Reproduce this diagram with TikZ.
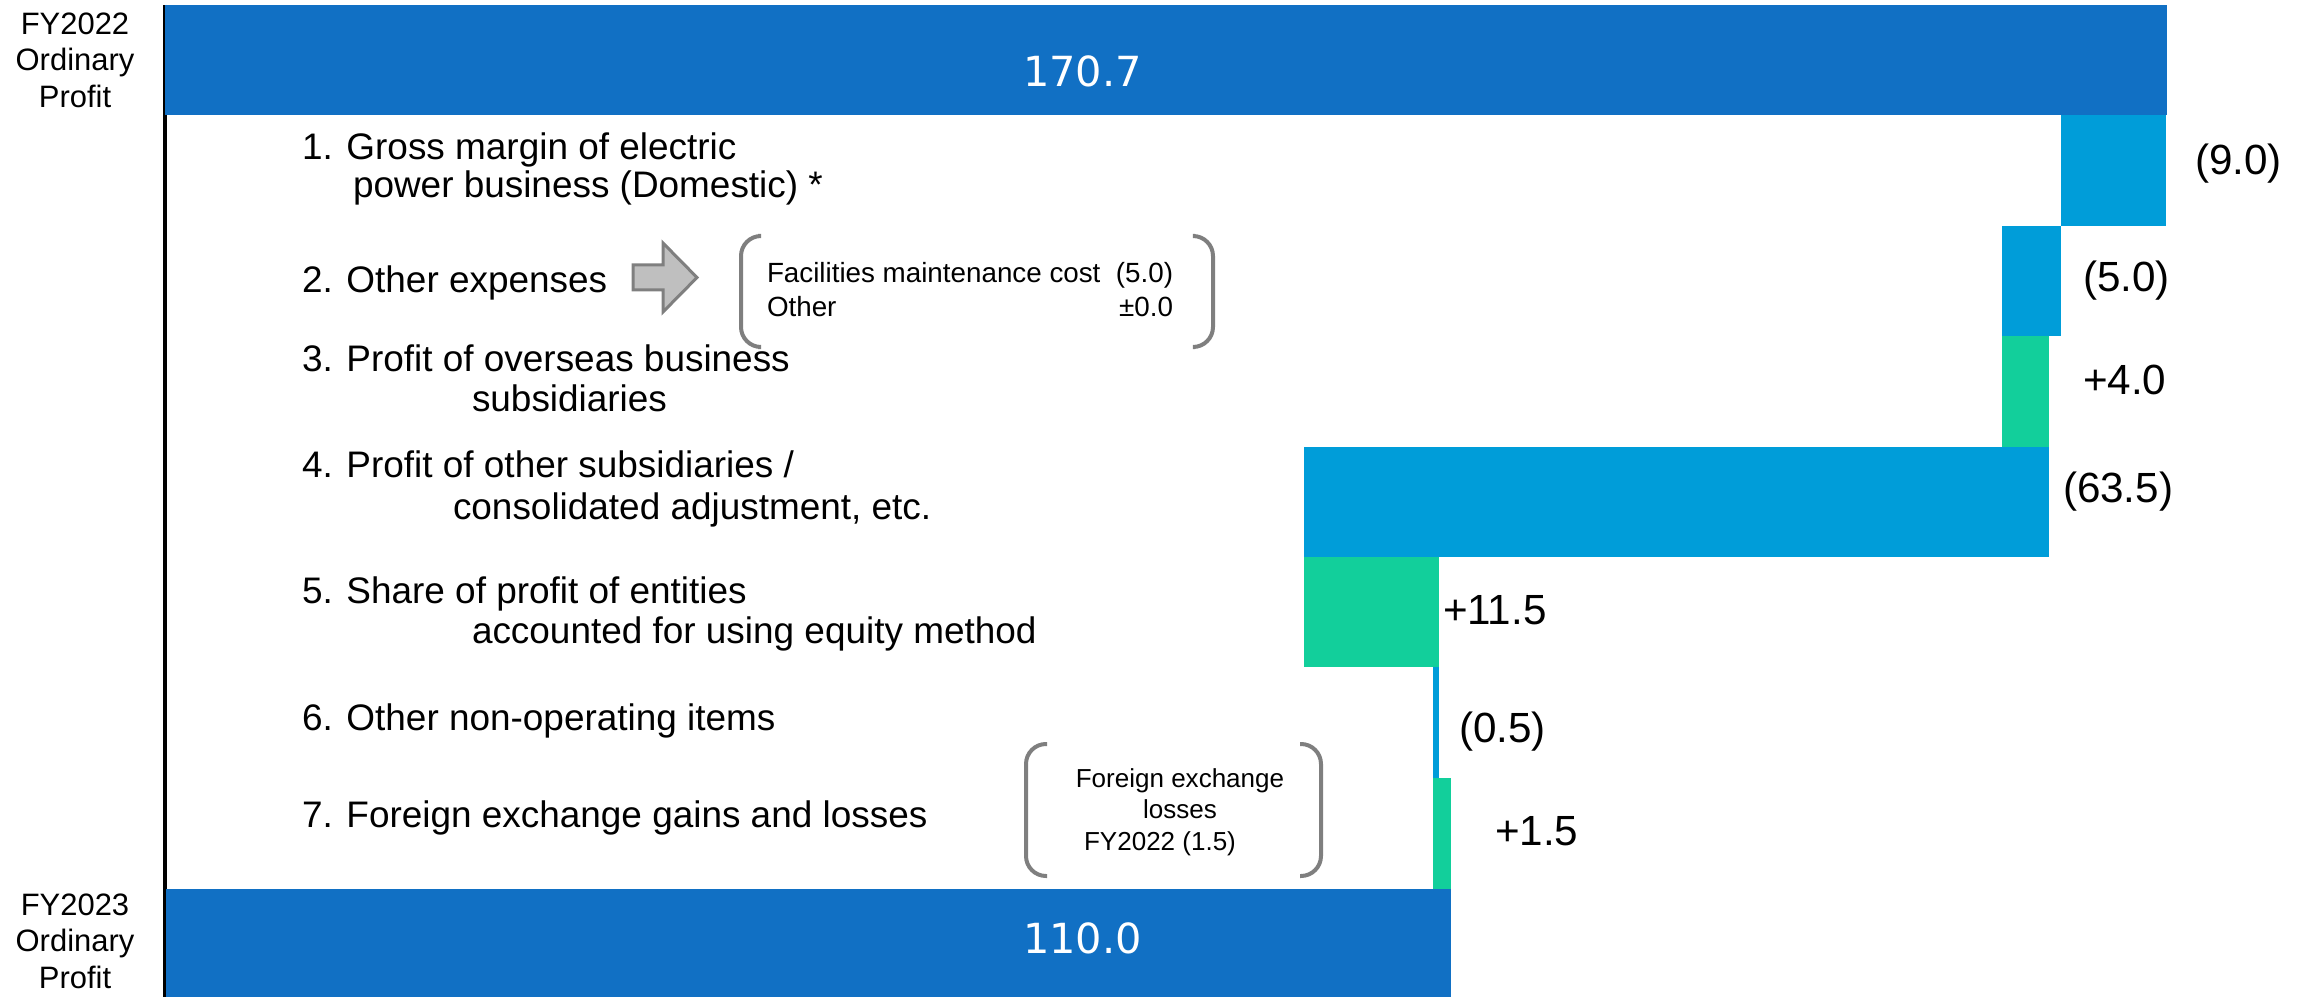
\documentclass[tikz,border=0pt]{standalone}
\usepackage{fontspec}
\setmainfont{Liberation Sans}
\newfontfamily\numfont{DejaVu Sans}
\definecolor{totblue}{HTML}{1170C4}
\definecolor{negblue}{HTML}{009DD9}
\definecolor{posgreen}{HTML}{12CF9B}
\definecolor{brkgray}{HTML}{7F7F7F}
\definecolor{arrgray}{HTML}{BFBFBF}

\begin{document}
\begin{tikzpicture}[
x=0.01cm, y=-0.01cm,
every node/.style={inner sep=0pt, outer sep=0pt},
totbar/.style={rectangle, fill=totblue},
negbar/.style={rectangle, fill=negblue},
posbar/.style={rectangle, fill=posgreen},
itemlbl/.style={anchor=base west, font=\fontsize{10.5pt}{12pt}\selectfont},
vallbl/.style={anchor=base west, font=\fontsize{12pt}{14pt}\selectfont},
totlbl/.style={anchor=base west, text=white, font=\numfont\fontsize{11.8pt}{14pt}\selectfont},
fylbl/.style={align=center, font=\fontsize{8.8pt}{10.4pt}\selectfont},
notelbl/.style={anchor=base west, font=\fontsize{7.9pt}{9.5pt}\selectfont},
bracket/.style={draw=brkgray, line width=0.04cm, rounded corners=0.2cm}
]
\useasboundingbox (0,0) rectangle (2308,997);

% axis
\draw[line width=0.04cm] (165,5) -- (165,997);

% bars
\path
(1166,60) node[totbar, minimum width=20cm, minimum height=1.1cm] (fy22) {}
(2113.5,170.5) node[negbar, minimum width=1.05cm, minimum height=1.11cm] (b1) {}
(2031.5,281) node[negbar, minimum width=0.59cm, minimum height=1.1cm] (b2) {}
(2025.5,391.5) node[posbar, minimum width=0.47cm, minimum height=1.11cm] (b3) {}
(1676.5,502) node[negbar, minimum width=7.45cm, minimum height=1.1cm] (b4) {}
(1371.5,612) node[posbar, minimum width=1.35cm, minimum height=1.1cm] (b5) {}
(1436,722.5) node[negbar, minimum width=0.06cm, minimum height=1.11cm] (b6) {}
(1442,833.5) node[posbar, minimum width=0.18cm, minimum height=1.11cm] (b7) {}
(808.5,943) node[totbar, minimum width=12.85cm, minimum height=1.08cm] (fy23) {}
;

\node[totlbl] (t22) at (1023,87) {170.7};
\node[totlbl] (t23) at (1023,953) {110.0};

\node[fylbl] (y22) at (75,60) {FY2022\\Ordinary\\Profit};
\node[fylbl] (y23) at (75,941) {FY2023\\Ordinary\\Profit};

% item labels
\path
(302,160) node[itemlbl] (l1a) {1. Gross margin of electric}
(353,198) node[itemlbl] (l1b) {power business (Domestic) *}
(302,293) node[itemlbl] (l2) {2. Other expenses}
(302,371) node[itemlbl] (l3a) {3. Profit of overseas business}
(472,412) node[itemlbl] (l3b) {subsidiaries}
(302,478) node[itemlbl] (l4a) {4. Profit of other subsidiaries /}
(453,519) node[itemlbl] (l4b) {consolidated adjustment, etc.}
(302,603) node[itemlbl] (l5a) {5. Share of profit of entities}
(472,643) node[itemlbl] (l5b) {accounted for using equity method}
(302,730) node[itemlbl] (l6) {6. Other non-operating items}
(302,827) node[itemlbl] (l7) {7. Foreign exchange gains and losses}
;

% values
\foreach \x/\y/\t [count=\i] in {2195/175/(9.0), 2083/292/(5.0), 2083/394/+4.0,
    2063/502/(63.5), 1443/624/+11.5, 1459/742/(0.5), 1495/845/+1.5}
    \node[vallbl] (v\i) at (\x,\y) {\t};

% arrow for other expenses
\draw[draw=brkgray, fill=arrgray, line width=0.03cm]
(633,265) -- (663,265) -- (663,243) -- (697,277.5) -- (663,312) -- (663,290) -- (633,290) -- cycle;

% breakdown of other expenses
\draw[bracket] (758,236) -- (741,236) -- (741,347) -- (758,347);
\draw[bracket] (1195,236) -- (1213,236) -- (1213,347) -- (1195,347);
\node[notelbl] (n1) at (767,283) {Facilities maintenance cost};
\node[notelbl, anchor=base east] (n2) at (1173,283) {(5.0)};
\node[notelbl] (n3) at (767,317) {Other};
\node[notelbl, anchor=base east] (n4) at (1173,317) {±0.0};

% foreign exchange note
\draw[bracket] (1047,744) -- (1026,744) -- (1026,876) -- (1047,876);
\draw[bracket] (1300,744) -- (1321,744) -- (1321,876) -- (1300,876);
\node[align=center, font=\fontsize{7.4pt}{9pt}\selectfont] (fx) at (1180,812)
{Foreign exchange\\losses\\FY2022 (1.5)\hspace*{0.4cm}};

\end{tikzpicture}
\end{document}
